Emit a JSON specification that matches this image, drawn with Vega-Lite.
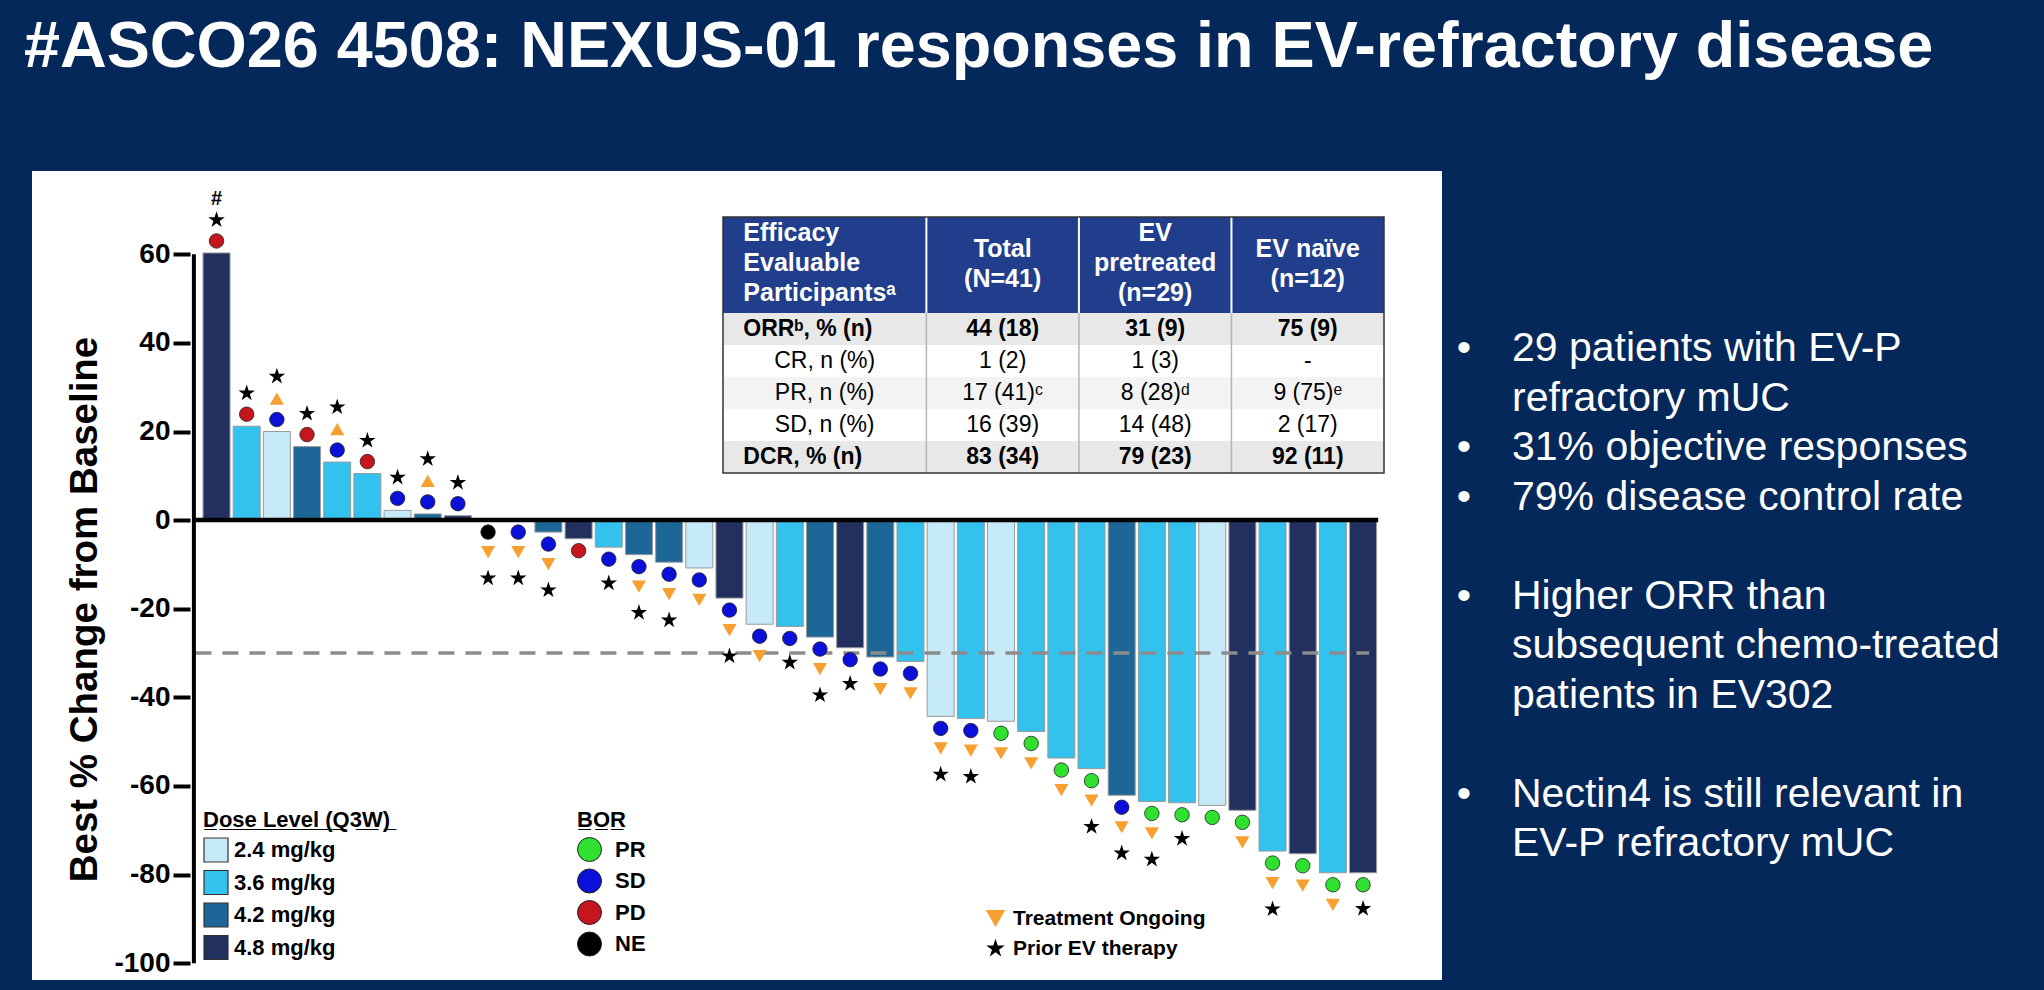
{
  "$schema": "https://vega.github.io/schema/vega-lite/v6.json",
  "background": "#05285a",
  "padding": {"left": 24, "top": 15, "right": 0, "bottom": 12},
  "title": {"text": "#ASCO26 4508: NEXUS-01 responses in EV-refractory disease", "anchor": "start", "font": "Liberation Sans", "fontSize": 64.7, "fontWeight": "bold", "color": "white", "offset": 90, "dx": -8},
  "spacing": 0,
  "config": {"font": "Liberation Sans", "view": {"stroke": null}, "legend": {"labelFont": "Liberation Sans", "titleFont": "Liberation Sans"}},
  "hconcat": [
    {
      "width": 1410,
      "height": 809,
      "view": {"fill": "white", "stroke": null},
      "resolve": {"scale": {"x": "independent", "y": "independent", "fill": "independent"}},
      "layer": [
        {
          "data": {"values": [
            {"id":1,"value":60.3,"dose":"4.8 mg/kg","bor":"PD","ong":"","prior":true,"note":"#"},
            {"id":2,"value":21.2,"dose":"3.6 mg/kg","bor":"PD","ong":"","prior":true,"note":""},
            {"id":3,"value":20.0,"dose":"2.4 mg/kg","bor":"SD","ong":"up","prior":true,"note":""},
            {"id":4,"value":16.6,"dose":"4.2 mg/kg","bor":"PD","ong":"","prior":true,"note":""},
            {"id":5,"value":13.1,"dose":"3.6 mg/kg","bor":"SD","ong":"up","prior":true,"note":""},
            {"id":6,"value":10.5,"dose":"3.6 mg/kg","bor":"PD","ong":"","prior":true,"note":""},
            {"id":7,"value":2.2,"dose":"2.4 mg/kg","bor":"SD","ong":"","prior":true,"note":""},
            {"id":8,"value":1.4,"dose":"4.2 mg/kg","bor":"SD","ong":"up","prior":true,"note":""},
            {"id":9,"value":1.0,"dose":"4.8 mg/kg","bor":"SD","ong":"","prior":true,"note":""},
            {"id":10,"value":0,"dose":"4.8 mg/kg","bor":"NE","ong":"down","prior":true,"note":""},
            {"id":11,"value":0,"dose":"3.6 mg/kg","bor":"SD","ong":"down","prior":true,"note":""},
            {"id":12,"value":-2.7,"dose":"4.2 mg/kg","bor":"SD","ong":"down","prior":true,"note":""},
            {"id":13,"value":-4.2,"dose":"4.8 mg/kg","bor":"PD","ong":"","prior":false,"note":""},
            {"id":14,"value":-6.1,"dose":"3.6 mg/kg","bor":"SD","ong":"","prior":true,"note":""},
            {"id":15,"value":-7.8,"dose":"4.2 mg/kg","bor":"SD","ong":"down","prior":true,"note":""},
            {"id":16,"value":-9.5,"dose":"4.2 mg/kg","bor":"SD","ong":"down","prior":true,"note":""},
            {"id":17,"value":-10.8,"dose":"2.4 mg/kg","bor":"SD","ong":"down","prior":false,"note":""},
            {"id":18,"value":-17.6,"dose":"4.8 mg/kg","bor":"SD","ong":"down","prior":true,"note":""},
            {"id":19,"value":-23.5,"dose":"2.4 mg/kg","bor":"SD","ong":"down","prior":false,"note":""},
            {"id":20,"value":-24.0,"dose":"3.6 mg/kg","bor":"SD","ong":"","prior":true,"note":""},
            {"id":21,"value":-26.4,"dose":"4.2 mg/kg","bor":"SD","ong":"down","prior":true,"note":""},
            {"id":22,"value":-28.8,"dose":"4.8 mg/kg","bor":"SD","ong":"","prior":true,"note":""},
            {"id":23,"value":-30.9,"dose":"4.2 mg/kg","bor":"SD","ong":"down","prior":false,"note":""},
            {"id":24,"value":-31.9,"dose":"3.6 mg/kg","bor":"SD","ong":"down","prior":false,"note":""},
            {"id":25,"value":-44.3,"dose":"2.4 mg/kg","bor":"SD","ong":"down","prior":true,"note":""},
            {"id":26,"value":-44.8,"dose":"3.6 mg/kg","bor":"SD","ong":"down","prior":true,"note":""},
            {"id":27,"value":-45.4,"dose":"2.4 mg/kg","bor":"PR","ong":"down","prior":false,"note":""},
            {"id":28,"value":-47.7,"dose":"3.6 mg/kg","bor":"PR","ong":"down","prior":false,"note":""},
            {"id":29,"value":-53.7,"dose":"3.6 mg/kg","bor":"PR","ong":"down","prior":false,"note":""},
            {"id":30,"value":-56.1,"dose":"3.6 mg/kg","bor":"PR","ong":"down","prior":true,"note":""},
            {"id":31,"value":-62.1,"dose":"4.2 mg/kg","bor":"SD","ong":"down","prior":true,"note":""},
            {"id":32,"value":-63.5,"dose":"3.6 mg/kg","bor":"PR","ong":"down","prior":true,"note":""},
            {"id":33,"value":-63.8,"dose":"3.6 mg/kg","bor":"PR","ong":"","prior":true,"note":""},
            {"id":34,"value":-64.4,"dose":"2.4 mg/kg","bor":"PR","ong":"","prior":false,"note":""},
            {"id":35,"value":-65.5,"dose":"4.8 mg/kg","bor":"PR","ong":"down","prior":false,"note":""},
            {"id":36,"value":-74.7,"dose":"3.6 mg/kg","bor":"PR","ong":"down","prior":true,"note":""},
            {"id":37,"value":-75.3,"dose":"4.8 mg/kg","bor":"PR","ong":"down","prior":false,"note":""},
            {"id":38,"value":-79.6,"dose":"3.6 mg/kg","bor":"PR","ong":"down","prior":false,"note":""},
            {"id":39,"value":-79.6,"dose":"4.8 mg/kg","bor":"PR","ong":"","prior":true,"note":""}
          ]},
          "resolve": {"scale": {"fill": "independent", "shape": "independent"}},
          "layer": [
            {
              "mark": {"type": "bar", "orient": "vertical", "width": 27, "stroke": "#9a9a9a", "strokeWidth": 1, "opacity": 1},
              "encoding": {
                "x": {"field": "id", "type": "quantitative", "scale": {"domain": [-4.95, 41.45], "nice": false, "zero": false}, "axis": null},
                "y": {"field": "value", "type": "quantitative", "scale": {"domain": [-103.8, 78.8], "nice": false},
                  "axis": {"title": "Best % Change from Baseline", "values": [-100, -80, -60, -40, -20, 0, 20, 40, 60], "labelExpr": "'' + datum.value", "offset": -158, "domain": false, "grid": false, "ticks": true, "tickSize": 17, "tickWidth": 4, "tickColor": "#000000", "labelFont": "Liberation Sans", "labelFontSize": 28, "labelFontWeight": "bold", "labelColor": "#000000", "labelPadding": 3, "titleFont": "Liberation Sans", "titleFontSize": 38.5, "titleFontWeight": "bold", "titleColor": "#000000", "titleAngle": 270, "titleX": -106, "titleY": 438, "titleAlign": "center", "titleBaseline": "middle", "zindex": 1}},
                "y2": {"datum": 0},
                "fill": {"field": "dose", "type": "nominal",
                  "scale": {"domain": ["2.4 mg/kg", "3.6 mg/kg", "4.2 mg/kg", "4.8 mg/kg"], "range": ["#c6eaf8", "#33c1ed", "#1c6797", "#22305f"]},
                  "legend": {"title": "D\u0332o\u0332s\u0332e\u0332 \u0332L\u0332e\u0332v\u0332e\u0332l\u0332 \u0332(\u0332Q\u03323\u0332W\u0332)\u0332", "orient": "none", "legendX": 171, "legendY": 639, "symbolType": "square", "symbolSize": 576, "symbolStrokeColor": "#333333", "symbolStrokeWidth": 1.2, "labelFontSize": 22, "labelFontWeight": "bold", "labelColor": "#000000", "labelOffset": 5, "labelLimit": 300, "titleFontSize": 22, "titleFontWeight": "bold", "titleColor": "#000000", "titlePadding": 5, "titleLimit": 400, "rowPadding": 2.5}}
              }
            },
            {
              "data": {"values": [{}]},
              "mark": {"type": "rule", "stroke": "#8c8c8c", "strokeWidth": 3.5, "strokeDash": [16, 11]},
              "encoding": {
                "x": {"datum": 0.3, "type": "quantitative", "axis": null},
                "x2": {"datum": 39.2},
                "y": {"datum": -30, "type": "quantitative"}
              }
            },
            {
              "data": {"values": [{}]},
              "mark": {"type": "rule", "stroke": "#000000", "strokeWidth": 4.5},
              "encoding": {
                "x": {"datum": 0.25, "type": "quantitative", "axis": null},
                "x2": {"datum": 39.5},
                "y": {"datum": 0, "type": "quantitative"}
              }
            },
            {
              "data": {"values": [{}]},
              "mark": {"type": "rule", "stroke": "#000000", "strokeWidth": 4},
              "encoding": {
                "x": {"datum": 0.25, "type": "quantitative", "axis": null},
                "y": {"datum": -100, "type": "quantitative"},
                "y2": {"datum": 60}
              }
            },
            {
              "layer": [
                {
                  "transform": [{"filter": "datum.value > 0"}],
                  "mark": {"type": "point", "shape": "circle", "filled": true, "size": 210, "stroke": "#222222", "strokeWidth": 0.8, "opacity": 1, "yOffset": -12},
                  "encoding": {
                    "x": {"field": "id", "type": "quantitative", "axis": null},
                    "y": {"field": "value", "type": "quantitative"},
                    "fill": {"field": "bor", "type": "nominal",
                      "scale": {"domain": ["PR", "SD", "PD", "NE"], "range": ["#2fe02f", "#0a10d8", "#c4161c", "#000000"]},
                      "legend": {"title": "B\u0332O\u0332R\u0332", "orient": "none", "legendX": 545, "legendY": 639, "symbolType": "circle", "symbolSize": 576, "symbolStrokeColor": "#222222", "symbolStrokeWidth": 1, "labelFontSize": 22, "labelFontWeight": "bold", "labelColor": "#000000", "labelOffset": 13, "titleFontSize": 22, "titleFontWeight": "bold", "titleColor": "#000000", "titlePadding": 5, "rowPadding": 2.5}}
                  }
                },
                {
                  "transform": [{"filter": "datum.value <= 0"}],
                  "mark": {"type": "point", "shape": "circle", "filled": true, "size": 210, "stroke": "#222222", "strokeWidth": 0.8, "opacity": 1, "yOffset": 12},
                  "encoding": {
                    "x": {"field": "id", "type": "quantitative", "axis": null},
                    "y": {"field": "value", "type": "quantitative"},
                    "fill": {"field": "bor", "type": "nominal"}
                  }
                }
              ]
            },
            {
              "layer": [
                {
                  "transform": [{"filter": "datum.value > 0 && datum.ong == 'up'"}],
                  "mark": {"type": "point", "shape": "triangle-up", "filled": true, "size": 200, "strokeWidth": 0, "opacity": 1, "yOffset": -33},
                  "encoding": {
                    "x": {"field": "id", "type": "quantitative", "axis": null},
                    "y": {"field": "value", "type": "quantitative"},
                    "fill": {"datum": "Treatment Ongoing", "type": "nominal",
                      "scale": {"domain": ["Treatment Ongoing", "Prior EV therapy"], "range": ["#f7a030", "#000000"]},
                      "legend": {"title": null, "orient": "none", "legendX": 953, "legendY": 737, "symbolSize": 380, "symbolStrokeWidth": 0, "labelFontSize": 21, "labelFontWeight": "bold", "labelColor": "#000000", "labelOffset": 7, "labelLimit": 400, "rowPadding": 8}}
                  }
                },
                {
                  "transform": [{"filter": "datum.value <= 0 && datum.ong == 'down'"}],
                  "mark": {"type": "point", "filled": true, "size": 200, "strokeWidth": 0, "opacity": 1, "yOffset": 32},
                  "encoding": {
                    "x": {"field": "id", "type": "quantitative", "axis": null},
                    "y": {"field": "value", "type": "quantitative"},
                    "fill": {"datum": "Treatment Ongoing", "type": "nominal"},
                    "shape": {"datum": "Treatment Ongoing", "type": "nominal",
                      "scale": {"domain": ["Treatment Ongoing", "Prior EV therapy"], "range": ["triangle-down", "M0,-1L0.2245,-0.309L0.9511,-0.309L0.3633,0.118L0.5878,0.809L0,0.382L-0.5878,0.809L-0.3633,0.118L-0.9511,-0.309L-0.2245,-0.309Z"]},
                      "legend": {"title": null, "orient": "none", "legendX": 953, "legendY": 737, "symbolSize": 380, "symbolStrokeWidth": 0, "labelFontSize": 21, "labelFontWeight": "bold", "labelColor": "#000000", "labelOffset": 7, "labelLimit": 400, "rowPadding": 8}}
                  }
                },
                {
                  "transform": [{"filter": "datum.value > 0 && datum.prior && datum.ong != ''"}],
                  "mark": {"type": "point", "filled": true, "size": 300, "strokeWidth": 0, "opacity": 1, "yOffset": -55},
                  "encoding": {
                    "x": {"field": "id", "type": "quantitative", "axis": null},
                    "y": {"field": "value", "type": "quantitative"},
                    "fill": {"datum": "Prior EV therapy", "type": "nominal"},
                    "shape": {"datum": "Prior EV therapy", "type": "nominal"}
                  }
                },
                {
                  "transform": [{"filter": "datum.value > 0 && datum.prior && datum.ong == ''"}],
                  "mark": {"type": "point", "filled": true, "size": 300, "strokeWidth": 0, "opacity": 1, "yOffset": -33},
                  "encoding": {
                    "x": {"field": "id", "type": "quantitative", "axis": null},
                    "y": {"field": "value", "type": "quantitative"},
                    "fill": {"datum": "Prior EV therapy", "type": "nominal"},
                    "shape": {"datum": "Prior EV therapy", "type": "nominal"}
                  }
                },
                {
                  "transform": [{"filter": "datum.value <= 0 && datum.prior && datum.ong != ''"}],
                  "mark": {"type": "point", "filled": true, "size": 300, "strokeWidth": 0, "opacity": 1, "yOffset": 58},
                  "encoding": {
                    "x": {"field": "id", "type": "quantitative", "axis": null},
                    "y": {"field": "value", "type": "quantitative"},
                    "fill": {"datum": "Prior EV therapy", "type": "nominal"},
                    "shape": {"datum": "Prior EV therapy", "type": "nominal"}
                  }
                },
                {
                  "transform": [{"filter": "datum.value <= 0 && datum.prior && datum.ong == ''"}],
                  "mark": {"type": "point", "filled": true, "size": 300, "strokeWidth": 0, "opacity": 1, "yOffset": 36},
                  "encoding": {
                    "x": {"field": "id", "type": "quantitative", "axis": null},
                    "y": {"field": "value", "type": "quantitative"},
                    "fill": {"datum": "Prior EV therapy", "type": "nominal"},
                    "shape": {"datum": "Prior EV therapy", "type": "nominal"}
                  }
                }
              ]
            },
            {
              "transform": [{"filter": "datum.note != ''"}],
              "mark": {"type": "text", "dy": -54, "fontSize": 20, "fontWeight": "bold", "color": "#000000", "baseline": "middle", "align": "center"},
              "encoding": {
                "x": {"field": "id", "type": "quantitative", "axis": null},
                "y": {"field": "value", "type": "quantitative"},
                "text": {"field": "note"}
              }
            }
          ]
        },
        {
          "data": {"values": [
            {"r":"hdr","lab":"Efficacy\nEvaluable\nParticipantsᵃ","total":"Total\n(N=41)","evp":"EV\npretreated\n(n=29)","evn":"EV naïve\n(n=12)"},
            {"r":"ORR","lab":"ORRᵇ, % (n)","total":"44 (18)","evp":"31 (9)","evn":"75 (9)"},
            {"r":"CR","lab":"CR, n (%)","total":"1 (2)","evp":"1 (3)","evn":"-"},
            {"r":"PR","lab":"PR, n (%)","total":"17 (41)ᶜ","evp":"8 (28)ᵈ","evn":"9 (75)ᵉ"},
            {"r":"SD","lab":"SD, n (%)","total":"16 (39)","evp":"14 (48)","evn":"2 (17)"},
            {"r":"DCR","lab":"DCR, % (n)","total":"83 (34)","evp":"79 (23)","evn":"92 (11)"}
          ]},
          "layer": [
            {
              "mark": {"type": "rect", "fill": "#213e8c"},
              "encoding": {
                "x": {"datum": "a0", "type": "nominal", "bandPosition": 0, "scale": {"type": "band", "domain": ["a0","a1","a2","a3","t0","total","t2","p0","evp","p2","n0","evn","n2"], "range": [691, 1352], "paddingInner": 0, "paddingOuter": 0}, "axis": null},
                "x2": {"datum": "n2", "bandPosition": 1},
                "y": {"datum": "hdr_a", "type": "nominal", "bandPosition": 0, "scale": {"type": "band", "domain": ["hdr_a","hdr","hdr_b","ORR","CR","PR","SD","DCR"], "range": [46, 302], "paddingInner": 0, "paddingOuter": 0}, "axis": null},
                "y2": {"datum": "ORR", "bandPosition": 0}
              }
            },
            {
              "transform": [{"filter": "datum.r != 'hdr'"}],
              "mark": {"type": "rect"},
              "encoding": {
                "x": {"datum": "a0", "type": "nominal", "bandPosition": 0, "scale": {"type": "band", "domain": ["a0","a1","a2","a3","t0","total","t2","p0","evp","p2","n0","evn","n2"], "range": [691, 1352], "paddingInner": 0, "paddingOuter": 0}, "axis": null},
                "x2": {"datum": "n2", "bandPosition": 1},
                "y": {"field": "r", "type": "nominal", "scale": {"type": "band", "domain": ["hdr_a","hdr","hdr_b","ORR","CR","PR","SD","DCR"], "range": [46, 302], "paddingInner": 0, "paddingOuter": 0}, "axis": null},
                "fill": {"field": "r", "type": "nominal", "scale": {"domain": ["ORR","CR","PR","SD","DCR"], "range": ["#e8e8e8","#ffffff","#f3f3f3","#ffffff","#e8e8e8"]}, "legend": null}
              }
            },
            {
              "data": {"values": [{"c": "t0"}, {"c": "p0"}, {"c": "n0"}]},
              "mark": {"type": "rule", "stroke": "#ffffff", "strokeWidth": 2},
              "encoding": {
                "x": {"field": "c", "type": "nominal", "bandPosition": 0, "scale": {"type": "band", "domain": ["a0","a1","a2","a3","t0","total","t2","p0","evp","p2","n0","evn","n2"], "range": [691, 1352], "paddingInner": 0, "paddingOuter": 0}, "axis": null},
                "y": {"datum": "hdr_a", "type": "nominal", "bandPosition": 0, "scale": {"type": "band", "domain": ["hdr_a","hdr","hdr_b","ORR","CR","PR","SD","DCR"], "range": [46, 302], "paddingInner": 0, "paddingOuter": 0}, "axis": null},
                "y2": {"datum": "ORR", "bandPosition": 0}
              }
            },
            {
              "data": {"values": [{"c": "t0"}, {"c": "p0"}, {"c": "n0"}]},
              "mark": {"type": "rule", "stroke": "#b5b5b5", "strokeWidth": 1.5},
              "encoding": {
                "x": {"field": "c", "type": "nominal", "bandPosition": 0, "scale": {"type": "band", "domain": ["a0","a1","a2","a3","t0","total","t2","p0","evp","p2","n0","evn","n2"], "range": [691, 1352], "paddingInner": 0, "paddingOuter": 0}, "axis": null},
                "y": {"datum": "ORR", "type": "nominal", "bandPosition": 0, "scale": {"type": "band", "domain": ["hdr_a","hdr","hdr_b","ORR","CR","PR","SD","DCR"], "range": [46, 302], "paddingInner": 0, "paddingOuter": 0}, "axis": null},
                "y2": {"datum": "DCR", "bandPosition": 1}
              }
            },
            {
              "data": {"values": [{}]},
              "mark": {"type": "rect", "fill": null, "stroke": "#333333", "strokeWidth": 1.5},
              "encoding": {
                "x": {"datum": "a0", "type": "nominal", "bandPosition": 0, "scale": {"type": "band", "domain": ["a0","a1","a2","a3","t0","total","t2","p0","evp","p2","n0","evn","n2"], "range": [691, 1352], "paddingInner": 0, "paddingOuter": 0}, "axis": null},
                "x2": {"datum": "n2", "bandPosition": 1},
                "y": {"datum": "hdr_a", "type": "nominal", "bandPosition": 0, "scale": {"type": "band", "domain": ["hdr_a","hdr","hdr_b","ORR","CR","PR","SD","DCR"], "range": [46, 302], "paddingInner": 0, "paddingOuter": 0}, "axis": null},
                "y2": {"datum": "DCR", "bandPosition": 1}
              }
            },
            {
              "transform": [{"filter": "datum.r == 'hdr'"}],
              "mark": {"type": "text", "align": "left", "baseline": "middle", "lineBreak": "\n", "lineHeight": 30, "fontSize": 25, "fontWeight": "bold", "color": "#ffffff"},
              "encoding": {
                "x": {"datum": "a0", "type": "nominal", "bandPosition": 0.4, "scale": {"type": "band", "domain": ["a0","a1","a2","a3","t0","total","t2","p0","evp","p2","n0","evn","n2"], "range": [691, 1352], "paddingInner": 0, "paddingOuter": 0}, "axis": null},
                "y": {"datum": "hdr_a", "type": "nominal", "bandPosition": 0.5, "scale": {"type": "band", "domain": ["hdr_a","hdr","hdr_b","ORR","CR","PR","SD","DCR"], "range": [46, 302], "paddingInner": 0, "paddingOuter": 0}, "axis": null},
                "text": {"field": "lab"}
              }
            },
            {
              "transform": [{"filter": "datum.r == 'hdr'"}, {"fold": ["total", "evp", "evn"], "as": ["key", "val"]}, {"filter": "datum.key == 'evp'"}],
              "mark": {"type": "text", "align": "center", "baseline": "middle", "lineBreak": "\n", "lineHeight": 30, "fontSize": 25, "fontWeight": "bold", "color": "#ffffff"},
              "encoding": {
                "x": {"field": "key", "type": "nominal", "scale": {"type": "band", "domain": ["a0","a1","a2","a3","t0","total","t2","p0","evp","p2","n0","evn","n2"], "range": [691, 1352], "paddingInner": 0, "paddingOuter": 0}, "axis": null},
                "y": {"datum": "hdr_a", "type": "nominal", "bandPosition": 0.5, "scale": {"type": "band", "domain": ["hdr_a","hdr","hdr_b","ORR","CR","PR","SD","DCR"], "range": [46, 302], "paddingInner": 0, "paddingOuter": 0}, "axis": null},
                "text": {"field": "val"}
              }
            },
            {
              "transform": [{"filter": "datum.r == 'hdr'"}, {"fold": ["total", "evp", "evn"], "as": ["key", "val"]}, {"filter": "datum.key != 'evp'"}],
              "mark": {"type": "text", "align": "center", "baseline": "middle", "lineBreak": "\n", "lineHeight": 30, "fontSize": 25, "fontWeight": "bold", "color": "#ffffff"},
              "encoding": {
                "x": {"field": "key", "type": "nominal", "scale": {"type": "band", "domain": ["a0","a1","a2","a3","t0","total","t2","p0","evp","p2","n0","evn","n2"], "range": [691, 1352], "paddingInner": 0, "paddingOuter": 0}, "axis": null},
                "y": {"datum": "hdr", "type": "nominal", "bandPosition": 0, "scale": {"type": "band", "domain": ["hdr_a","hdr","hdr_b","ORR","CR","PR","SD","DCR"], "range": [46, 302], "paddingInner": 0, "paddingOuter": 0}, "axis": null},
                "text": {"field": "val"}
              }
            },
            {
              "transform": [{"filter": "datum.r == 'ORR' || datum.r == 'DCR'"}],
              "mark": {"type": "text", "align": "left", "baseline": "middle", "fontSize": 23, "fontWeight": "bold", "color": "#000000"},
              "encoding": {
                "x": {"datum": "a0", "type": "nominal", "bandPosition": 0.4, "scale": {"type": "band", "domain": ["a0","a1","a2","a3","t0","total","t2","p0","evp","p2","n0","evn","n2"], "range": [691, 1352], "paddingInner": 0, "paddingOuter": 0}, "axis": null},
                "y": {"field": "r", "type": "nominal", "scale": {"type": "band", "domain": ["hdr_a","hdr","hdr_b","ORR","CR","PR","SD","DCR"], "range": [46, 302], "paddingInner": 0, "paddingOuter": 0}, "axis": null},
                "text": {"field": "lab"}
              }
            },
            {
              "transform": [{"filter": "datum.r == 'CR' || datum.r == 'PR' || datum.r == 'SD'"}],
              "mark": {"type": "text", "align": "center", "baseline": "middle", "fontSize": 23, "fontWeight": "normal", "color": "#000000"},
              "encoding": {
                "x": {"datum": "a2", "type": "nominal", "bandPosition": 0, "scale": {"type": "band", "domain": ["a0","a1","a2","a3","t0","total","t2","p0","evp","p2","n0","evn","n2"], "range": [691, 1352], "paddingInner": 0, "paddingOuter": 0}, "axis": null},
                "y": {"field": "r", "type": "nominal", "scale": {"type": "band", "domain": ["hdr_a","hdr","hdr_b","ORR","CR","PR","SD","DCR"], "range": [46, 302], "paddingInner": 0, "paddingOuter": 0}, "axis": null},
                "text": {"field": "lab"}
              }
            },
            {
              "transform": [{"filter": "datum.r == 'ORR' || datum.r == 'DCR'"}, {"fold": ["total", "evp", "evn"], "as": ["key", "val"]}],
              "mark": {"type": "text", "align": "center", "baseline": "middle", "fontSize": 23, "fontWeight": "bold", "color": "#000000"},
              "encoding": {
                "x": {"field": "key", "type": "nominal", "scale": {"type": "band", "domain": ["a0","a1","a2","a3","t0","total","t2","p0","evp","p2","n0","evn","n2"], "range": [691, 1352], "paddingInner": 0, "paddingOuter": 0}, "axis": null},
                "y": {"field": "r", "type": "nominal", "scale": {"type": "band", "domain": ["hdr_a","hdr","hdr_b","ORR","CR","PR","SD","DCR"], "range": [46, 302], "paddingInner": 0, "paddingOuter": 0}, "axis": null},
                "text": {"field": "val"}
              }
            },
            {
              "transform": [{"filter": "datum.r == 'CR' || datum.r == 'PR' || datum.r == 'SD'"}, {"fold": ["total", "evp", "evn"], "as": ["key", "val"]}],
              "mark": {"type": "text", "align": "center", "baseline": "middle", "fontSize": 23, "fontWeight": "normal", "color": "#000000"},
              "encoding": {
                "x": {"field": "key", "type": "nominal", "scale": {"type": "band", "domain": ["a0","a1","a2","a3","t0","total","t2","p0","evp","p2","n0","evn","n2"], "range": [691, 1352], "paddingInner": 0, "paddingOuter": 0}, "axis": null},
                "y": {"field": "r", "type": "nominal", "scale": {"type": "band", "domain": ["hdr_a","hdr","hdr_b","ORR","CR","PR","SD","DCR"], "range": [46, 302], "paddingInner": 0, "paddingOuter": 0}, "axis": null},
                "text": {"field": "val"}
              }
            }
          ]
        }
      ]
    },
    {
      "width": 602,
      "height": 809,
      "view": {"fill": null, "stroke": null},
      "data": {"values": [
        {"line": 0, "bullet": "•", "text": "29 patients with EV-P"},
        {"line": 1, "bullet": "", "text": "refractory mUC"},
        {"line": 2, "bullet": "•", "text": "31% objective responses"},
        {"line": 3, "bullet": "•", "text": "79% disease control rate"},
        {"line": 5, "bullet": "•", "text": "Higher ORR than"},
        {"line": 6, "bullet": "", "text": "subsequent chemo-treated"},
        {"line": 7, "bullet": "", "text": "patients in EV302"},
        {"line": 9, "bullet": "•", "text": "Nectin4 is still relevant in"},
        {"line": 10, "bullet": "", "text": "EV-P refractory mUC"}
      ]},
      "layer": [
        {
          "mark": {"type": "text", "align": "center", "baseline": "middle", "fontSize": 41, "color": "#ffffff"},
          "encoding": {
            "x": {"datum": "bullet", "type": "nominal", "scale": {"type": "point", "domain": ["bullet", "text"], "range": [22, 70], "padding": 0}, "axis": null},
            "y": {"field": "line", "type": "quantitative", "scale": {"domain": [0, 10], "range": [178, 673], "nice": false, "zero": false}, "axis": null},
            "text": {"field": "bullet"}
          }
        },
        {
          "mark": {"type": "text", "align": "left", "baseline": "middle", "fontSize": 41, "color": "#ffffff"},
          "encoding": {
            "x": {"datum": "text", "type": "nominal", "scale": {"type": "point", "domain": ["bullet", "text"], "range": [22, 70], "padding": 0}, "axis": null},
            "y": {"field": "line", "type": "quantitative", "scale": {"domain": [0, 10], "range": [178, 673], "nice": false, "zero": false}, "axis": null},
            "text": {"field": "text"}
          }
        }
      ]
    }
  ]
}
